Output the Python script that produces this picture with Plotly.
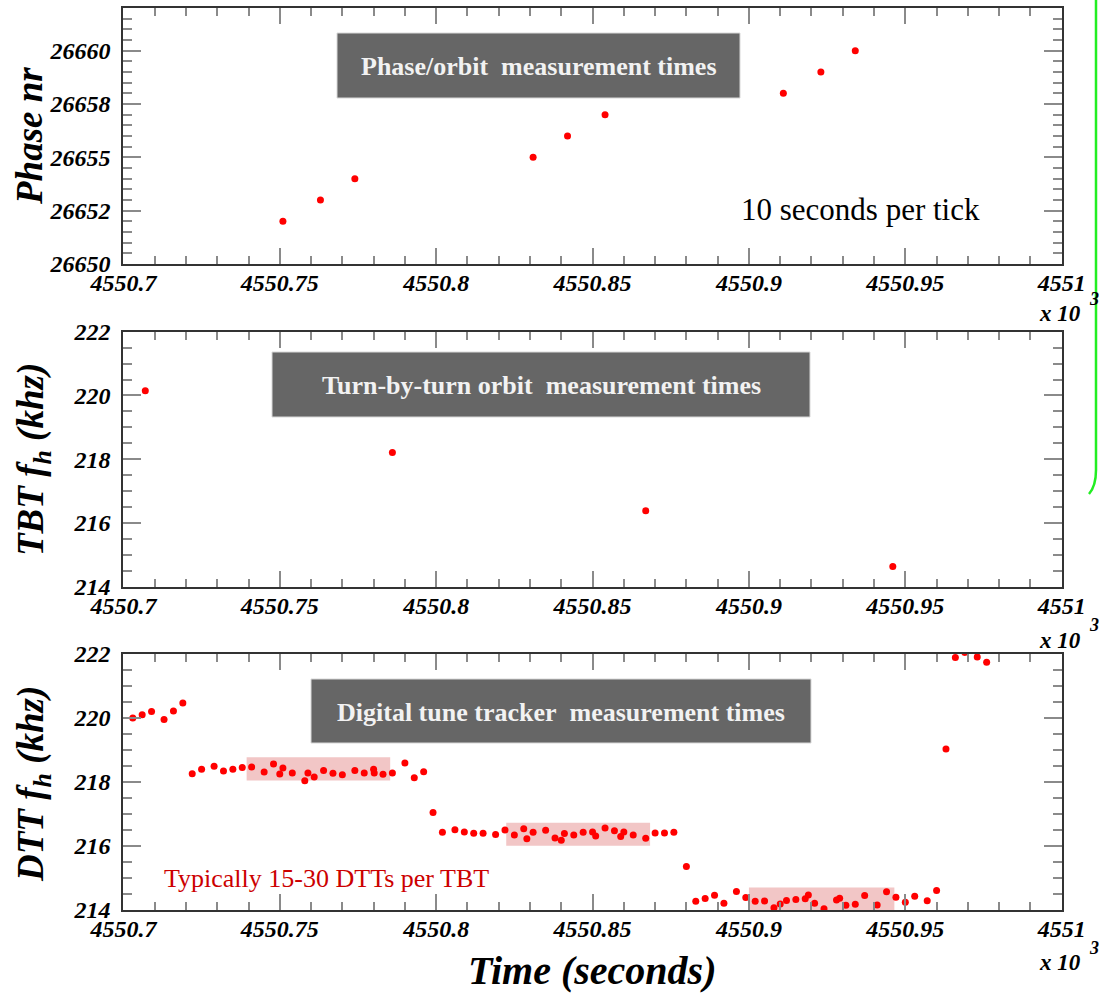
import plotly.graph_objects as go

W, H = 1099, 993

# ---------------- data ----------------
phase_time = [4550.751, 4550.763, 4550.774, 4550.831, 4550.842, 4550.854, 4550.911, 4550.923, 4550.934]
phase_nr = [26652, 26653, 26654, 26655, 26656, 26657, 26658, 26659, 26660]

tbt_time = [4550.707, 4550.786, 4550.867, 4550.946]
tbt_fh = [220.15, 218.21, 216.38, 214.63]

dtt_time = [
    4550.703, 4550.706, 4550.709, 4550.713, 4550.716, 4550.719,
    4550.722, 4550.725, 4550.729, 4550.732, 4550.735, 4550.738, 4550.741, 4550.745,
    4550.748, 4550.750, 4550.751, 4550.754, 4550.758, 4550.759, 4550.761, 4550.764,
    4550.767, 4550.770, 4550.774, 4550.777, 4550.780, 4550.7802, 4550.783, 4550.786,
    4550.790, 4550.793, 4550.796, 4550.799,
    4550.802, 4550.806, 4550.809, 4550.812, 4550.815, 4550.819, 4550.822, 4550.825,
    4550.828, 4550.829, 4550.831, 4550.835, 4550.838, 4550.840, 4550.841, 4550.844,
    4550.847, 4550.850, 4550.851, 4550.854, 4550.857, 4550.859, 4550.860, 4550.863,
    4550.867, 4550.870, 4550.873, 4550.876, 4550.880,
    4550.883, 4550.886, 4550.889, 4550.892, 4550.896, 4550.899, 4550.902, 4550.905,
    4550.908, 4550.910, 4550.912, 4550.915, 4550.918, 4550.919, 4550.921, 4550.924,
    4550.928, 4550.929, 4550.931, 4550.934, 4550.937, 4550.941, 4550.944, 4550.947,
    4550.950, 4550.953, 4550.957, 4550.960,
    4550.963, 4550.966, 4550.969, 4550.973, 4550.976,
]
dtt_fh = [
    220.00, 220.10, 220.20, 219.95, 220.22, 220.47,
    218.26, 218.40, 218.49, 218.34, 218.40, 218.45, 218.47, 218.31,
    218.56, 218.25, 218.44, 218.28, 218.04, 218.28, 218.16, 218.36,
    218.27, 218.23, 218.36, 218.28, 218.40, 218.28, 218.24, 218.28,
    218.59, 218.13, 218.32, 217.05,
    216.43, 216.51, 216.44, 216.40, 216.40, 216.36, 216.50, 216.34,
    216.54, 216.23, 216.43, 216.49, 216.25, 216.18, 216.39, 216.34,
    216.43, 216.44, 216.31, 216.56, 216.48, 216.30, 216.44, 216.34,
    216.24, 216.41, 216.41, 216.43, 215.36,
    214.27, 214.36, 214.46, 214.21, 214.58, 214.39, 214.27, 214.28,
    214.07, 214.19, 214.30, 214.33, 214.35, 214.47, 214.21, 214.04,
    214.31, 214.37, 214.15, 214.18, 214.45, 214.16, 214.57, 214.40,
    214.24, 214.43, 214.29, 214.61,
    219.03, 221.89, 222.05, 221.91, 221.74,
]

# highlighted DTT groups (time start, time end, fh low, fh high)
hl_t0 = [4550.7394, 4550.8224, 4550.9000]
hl_t1 = [4550.7853, 4550.8684, 4550.9465]
hl_lo = [218.05, 216.01, 214.00]
hl_hi = [218.77, 216.73, 214.70]

x_tickvals = [4550.7, 4550.75, 4550.8, 4550.85, 4550.9, 4550.95, 4551.0]
x_ticktext = ["4550.7", "4550.75", "4550.8", "4550.85", "4550.9", "4550.95", "4551"]
phase_tickvals = [26650, 26652.5, 26655, 26657.5, 26660]
phase_ticktext = ["26650", "26652", "26655", "26658", "26660"]
f_tickvals = [214, 216, 218, 220, 222]
f_ticktext = ["214", "216", "218", "220", "222"]

panel_titles = ["Phase/orbit\u00a0 measurement times",
                "Turn-by-turn orbit\u00a0 measurement times",
                "Digital tune tracker\u00a0 measurement times"]

# ---------------- helpers ----------------
def px(x):
    return x / W

def py(y):
    return 1 - y / H

SERIF = "Liberation Serif, Times New Roman, serif"
X0, X1 = 123.4, 1061.7
panels_px = [(8, 264), (331.7, 586.7), (654, 910)]

fig = go.Figure()
mk = dict(color="#ff0000", size=7)
fig.add_trace(go.Scatter(x=phase_time, y=phase_nr, mode="markers", marker=mk,
                         xaxis="x", yaxis="y", showlegend=False))
fig.add_trace(go.Scatter(x=tbt_time, y=tbt_fh, mode="markers", marker=mk,
                         xaxis="x2", yaxis="y2", showlegend=False))
fig.add_trace(go.Scatter(x=dtt_time, y=dtt_fh, mode="markers", marker=mk,
                         xaxis="x3", yaxis="y3", showlegend=False, cliponaxis=True))

tickfont = dict(family=SERIF, size=24, color="black", weight="bold", style="italic")
common = dict(showline=True, linecolor="#333333", linewidth=2, mirror="ticks",
              ticks="inside", tickcolor="#8a8a8a", tickwidth=1.5, showgrid=False,
              zeroline=False, automargin=False, tickfont=tickfont)

layout = dict(width=W, height=H, margin=dict(l=0, r=0, t=0, b=0, autoexpand=False),
              paper_bgcolor="white", plot_bgcolor="white", showlegend=False)

for i, (top, bot) in enumerate(panels_px):
    sfx = "" if i == 0 else str(i + 1)
    xa = dict(common, domain=[px(X0), px(X1)], range=[4550.7, 4551.0],
              tickvals=x_tickvals, ticktext=x_ticktext, ticklen=16,
              anchor="y" + sfx, ticklabelstandoff=-4,
              minor=dict(ticks="inside", ticklen=8, tick0=4550.7, dtick=0.01,
                         tickcolor="#8a8a8a", tickwidth=1.5, showgrid=False))
    if i == 0:
        ya = dict(common, range=[26650, 26662], tickvals=phase_tickvals,
                  ticktext=phase_ticktext,
                  minor=dict(ticks="inside", ticklen=9, tick0=26650, dtick=0.5,
                             tickcolor="#8a8a8a", tickwidth=1.5, showgrid=False))
    else:
        ya = dict(common, range=[214, 222], tickvals=f_tickvals, ticktext=f_ticktext,
                  minor=dict(ticks="inside", ticklen=9, tick0=214, dtick=0.5,
                             tickcolor="#8a8a8a", tickwidth=1.5, showgrid=False))
    ya.update(domain=[py(bot), py(top)], ticklen=18, anchor="x" + sfx,
              ticklabelstandoff=6)
    layout["xaxis" + sfx] = xa
    layout["yaxis" + sfx] = ya

fig.update_layout(**layout)

shapes = []
annotations = []

# pink highlight boxes
for t0, t1, lo, hi in zip(hl_t0, hl_t1, hl_lo, hl_hi):
    shapes.append(dict(type="rect", xref="x3", yref="y3", x0=t0, x1=t1, y0=lo, y1=hi,
                       fillcolor="#f2c6c6", line=dict(width=0), layer="below"))

# gray title boxes
boxes = [(337, 740, 33, 98), (272, 810, 352, 417), (311, 811, 679, 743)]
for (bx0, bx1, by0, by1), title in zip(boxes, panel_titles):
    shapes.append(dict(type="rect", xref="paper", yref="paper",
                       x0=px(bx0), x1=px(bx1), y0=py(by1), y1=py(by0),
                       fillcolor="#666666", line=dict(color="#d8d8d8", width=1),
                       layer="above"))
    annotations.append(dict(xref="paper", yref="paper", x=px((bx0 + bx1) / 2),
                            y=py((by0 + by1) / 2 + 1), text=title,
                            showarrow=False, xanchor="center", yanchor="middle",
                            font=dict(family=SERIF, size=26, color="#f2f2f2",
                                      weight="bold")))

# green edge line (slide artifact)
gx = px(1096)
shapes.append(dict(type="path", xref="paper", yref="paper",
                   path=f"M {gx} {py(0)} L {gx} {py(470)} Q {gx} {py(486)} {px(1089)} {py(494)}",
                   line=dict(color="#22ee22", width=2.5)))

# y axis titles
ytitles = [
    ("Phase nr", 29, 136),
    ("TBT <i>f</i><sub>h</sub> (khz)", 33, 460),
    ("DTT <i>f</i><sub>h</sub> (khz)", 33, 784),
]
for txt, x, y in ytitles:
    annotations.append(dict(xref="paper", yref="paper", x=px(x), y=py(y), text=txt,
                            textangle=-90, showarrow=False, xanchor="center",
                            yanchor="middle",
                            font=dict(family=SERIF, size=37, color="black",
                                      weight="bold", style="italic")))

# x 10^3 labels
for ylab, ysup in [(313, 299), (640, 625), (962, 948)]:
    annotations.append(dict(xref="paper", yref="paper", x=px(1060), y=py(ylab),
                            text="x 10", showarrow=False,
                            xanchor="center", yanchor="middle",
                            font=dict(family=SERIF, size=23, color="black",
                                      weight="bold", style="italic")))
    annotations.append(dict(xref="paper", yref="paper", x=px(1094), y=py(ysup),
                            text="3", showarrow=False,
                            xanchor="center", yanchor="middle",
                            font=dict(family=SERIF, size=18, color="black",
                                      weight="bold", style="italic")))

# x axis title
annotations.append(dict(xref="paper", yref="paper", x=px(592), y=py(970),
                        text="Time (seconds)", showarrow=False,
                        xanchor="center", yanchor="middle",
                        font=dict(family=SERIF, size=40, color="black",
                                  weight="bold", style="italic")))

# in-plot notes
annotations.append(dict(xref="paper", yref="paper", x=px(860), y=py(209),
                        text="10 seconds per tick", showarrow=False,
                        xanchor="center", yanchor="middle",
                        font=dict(family=SERIF, size=31, color="black")))
annotations.append(dict(xref="paper", yref="paper", x=px(326), y=py(878),
                        text="Typically 15-30 DTTs per TBT", showarrow=False,
                        xanchor="center", yanchor="middle",
                        font=dict(family=SERIF, size=26, color="#cc0000")))

fig.update_layout(shapes=shapes, annotations=annotations)
fig.write_html("out.html")
